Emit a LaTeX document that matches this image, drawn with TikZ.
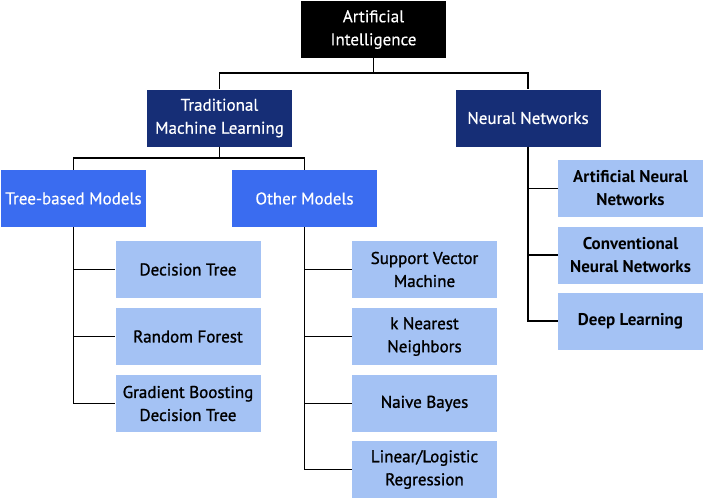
\documentclass[tikz,border=0pt]{standalone}
\usepackage{fontspec}
\setmainfont{PT Sans}
\newfontfamily\medfont{PT Sans}[FakeBold=1.2]
\newfontfamily\whitefont{PT Sans}[FakeBold=0.4]
\definecolor{aiblack}{RGB}{0,0,0}
\definecolor{navy}{RGB}{22,46,118}
\definecolor{brightblue}{RGB}{58,108,240}
\definecolor{lightblue}{RGB}{164,194,244}
\tikzset{
  box/.style={rectangle, minimum width=145pt, minimum height=57pt, inner sep=0pt, align=center,
    font=\fontsize{17}{23}\selectfont\whitefont},
  topbox/.style={box, fill=aiblack, text=white},
  midbox/.style={box, fill=navy, text=white},
  catbox/.style={box, fill=brightblue, text=white},
  leafbox/.style={box, fill=lightblue, text=black, font=\fontsize{17}{23}\selectfont\medfont},
  nnleaf/.style={box, fill=lightblue, text=black, font=\fontsize{17}{23}\selectfont\bfseries},
  link/.style={draw=black, line width=1.6pt}
}
\begin{document}
\begin{tikzpicture}[x=1pt,y=-1pt]
\useasboundingbox (0,0) rectangle (705,499);
\node[topbox] (ai) at (373.5,29.5) {Artificial\\Intelligence};
\node[midbox] (tml) at (219.5,118) {Traditional\\Machine Learning};
\node[midbox] (nn) at (528,118) {Neural Networks};
\node[catbox] (tree) at (73.5,198.5) {Tree-based Models};
\node[catbox] (other) at (304.5,198.5) {Other Models};
\node[leafbox] (dt) at (188,269.5) {Decision Tree};
\node[leafbox] (rf) at (188,336.5) {Random Forest};
\node[leafbox] (gbdt) at (188,403.5) {Gradient Boosting\\Decision Tree};
\node[leafbox] (svm) at (424.5,269.5) {Support Vector\\Machine};
\node[leafbox] (knn) at (424.5,336.5) {k Nearest\\Neighbors};
\node[leafbox] (nb) at (424.5,403.5) {Naive Bayes};
\node[leafbox] (lr) at (424.5,469.5) {Linear/Logistic\\Regression};
\node[nnleaf] (ann) at (630.5,188.5) {Artificial Neural\\Networks};
\node[nnleaf] (cnn) at (630.5,255) {Conventional\\Neural Networks};
\node[nnleaf] (dl) at (630.5,321) {Deep Learning};
\coordinate (j1) at (373.5,73);
\coordinate (j2) at (219.5,158);
\draw[link] (ai.south) -- (j1) -| (tml.north);
\draw[link] (j1) -| (nn.north);
\draw[link] (tml.south) -- (j2) -| (tree.north);
\draw[link] (j2) -| (other.north);
\draw[link] (tree.south) |- (dt.west);
\draw[link] (tree.south) |- (rf.west);
\draw[link] (tree.south) |- (gbdt.west);
\draw[link] (other.south) |- (svm.west);
\draw[link] (other.south) |- (knn.west);
\draw[link] (other.south) |- (nb.west);
\draw[link] (other.south) |- (lr.west);
\draw[link] (nn.south) |- (ann.west);
\draw[link] (nn.south) |- (cnn.west);
\draw[link] (nn.south) |- (dl.west);
\end{tikzpicture}
\end{document}
